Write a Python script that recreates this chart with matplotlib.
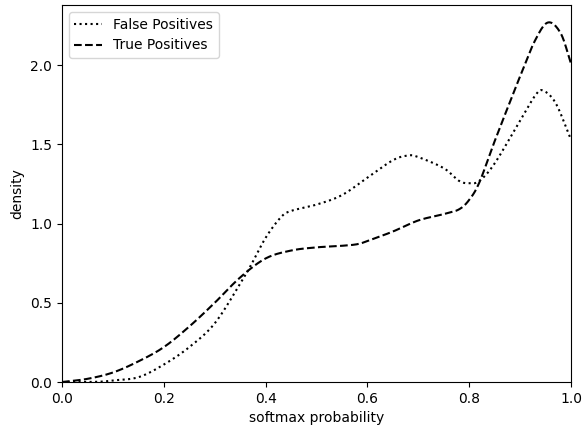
import numpy as np
import matplotlib
matplotlib.use('Agg')
import matplotlib.pyplot as plt

# Avlästa värden (softmax probability -> density)
fp_x = [0.0, 0.05, 0.08, 0.1, 0.15, 0.2, 0.25, 0.3, 0.35, 0.37, 0.4, 0.43, 0.45, 0.5, 0.55,
        0.6, 0.65, 0.68, 0.7, 0.75, 0.78, 0.8, 0.82, 0.85, 0.9, 0.93, 0.945, 0.97, 1.0]
fp_y = [0.0, 0.0, 0.003, 0.01, 0.03, 0.11, 0.22, 0.37, 0.62, 0.73, 0.91, 1.04, 1.08, 1.12, 1.18,
        1.29, 1.40, 1.43, 1.42, 1.35, 1.27, 1.255, 1.27, 1.38, 1.65, 1.81, 1.84, 1.76, 1.53]

tp_x = [0.0, 0.05, 0.1, 0.15, 0.2, 0.25, 0.3, 0.35, 0.4, 0.45, 0.5, 0.55, 0.58, 0.6, 0.65,
        0.7, 0.75, 0.78, 0.8, 0.82, 0.85, 0.9, 0.93, 0.955, 0.98, 1.0]
tp_y = [0.0, 0.02, 0.06, 0.13, 0.22, 0.35, 0.50, 0.66, 0.78, 0.83, 0.85, 0.86, 0.87, 0.89, 0.95,
        1.02, 1.06, 1.09, 1.15, 1.26, 1.52, 1.93, 2.16, 2.27, 2.2, 2.01]


def smooth(xs, ys, n=20):
    """Catmull-Rom mellan avlästa punkter."""
    xs = np.asarray(xs, float)
    ys = np.asarray(ys, float)
    px = np.concatenate([[2 * xs[0] - xs[1]], xs, [2 * xs[-1] - xs[-2]]])
    py = np.concatenate([[2 * ys[0] - ys[1]], ys, [2 * ys[-1] - ys[-2]]])
    out_x, out_y = [], []
    for i in range(1, len(px) - 2):
        t = np.linspace(0, 1, n, endpoint=False)
        for arr, out in ((px, out_x), (py, out_y)):
            p0, p1, p2, p3 = arr[i - 1], arr[i], arr[i + 1], arr[i + 2]
            out.extend(0.5 * ((2 * p1) + (-p0 + p2) * t + (2 * p0 - 5 * p1 + 4 * p2 - p3) * t ** 2
                              + (-p0 + 3 * p1 - 3 * p2 + p3) * t ** 3))
    out_x.append(xs[-1])
    out_y.append(ys[-1])
    return np.array(out_x), np.clip(np.array(out_y), 0, None)


fig = plt.figure(figsize=(5.83, 4.3), dpi=100)
ax = fig.add_axes([0.1063, 0.1116, 0.8731, 0.8767])

sx, sy = smooth(fp_x, fp_y)
ax.plot(sx, sy, color='black', linestyle=':', lw=1.5, label='False Positives')
sx, sy = smooth(tp_x, tp_y)
ax.plot(sx, sy, color='black', linestyle='--', lw=1.5, label='True Positives')

ax.set_xlim(0, 1)
ax.set_ylim(0, 2.38)
ax.set_yticks([0.0, 0.5, 1.0, 1.5, 2.0])
ax.set_xlabel('softmax probability')
ax.set_ylabel('density')
ax.legend(loc='upper left')

plt.savefig('out.png', dpi=100)
plt.close()
